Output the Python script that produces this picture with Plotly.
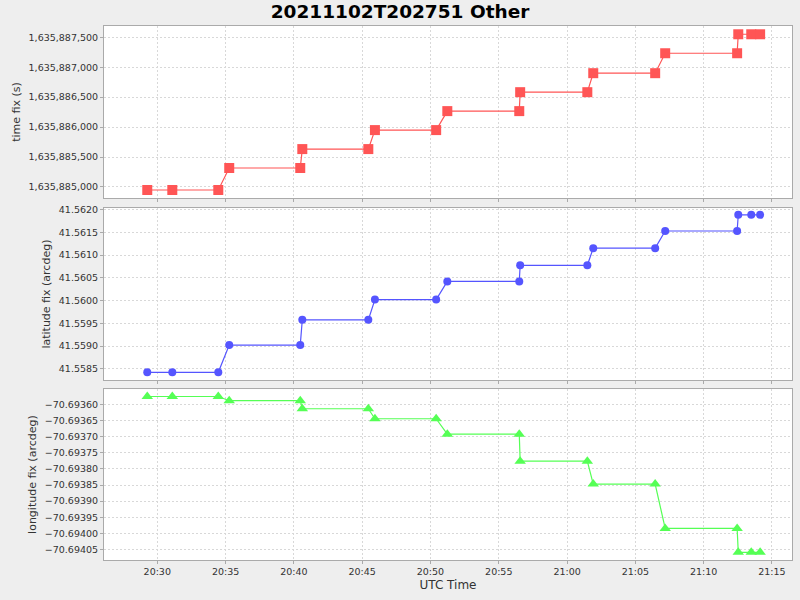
import plotly.graph_objects as go
from plotly.subplots import make_subplots

# UTC receive times (2021-11-02)
times = [
    "2021-11-02 20:29:16", "2021-11-02 20:31:06", "2021-11-02 20:34:28", "2021-11-02 20:35:16",
    "2021-11-02 20:40:28", "2021-11-02 20:40:37", "2021-11-02 20:45:27", "2021-11-02 20:45:56",
    "2021-11-02 20:50:25", "2021-11-02 20:51:14", "2021-11-02 20:56:30", "2021-11-02 20:56:34",
    "2021-11-02 21:01:29", "2021-11-02 21:01:55", "2021-11-02 21:06:27", "2021-11-02 21:07:11",
    "2021-11-02 21:12:27", "2021-11-02 21:12:32", "2021-11-02 21:13:29", "2021-11-02 21:14:08",
]

time_fix = [
    1635884950, 1635884950, 1635884950, 1635885317, 1635885317, 1635885633, 1635885633, 1635885950,
    1635885950, 1635886267, 1635886267, 1635886583, 1635886583, 1635886900, 1635886900, 1635887233,
    1635887233, 1635887550, 1635887550, 1635887550,
]

latitude_fix = [
    41.558426, 41.558426, 41.558426, 41.559024, 41.559024, 41.559578, 41.559578, 41.560021,
    41.560021, 41.560420, 41.560420, 41.560774, 41.560774, 41.561151, 41.561151, 41.561527,
    41.561527, 41.561882, 41.561882, 41.561882,
]

longitude_fix = [
    -70.693575, -70.693575, -70.693575, -70.693588, -70.693588, -70.693613, -70.693613, -70.693644,
    -70.693644, -70.693692, -70.693692, -70.693776, -70.693776, -70.693847, -70.693847, -70.693985,
    -70.693985, -70.694059, -70.694059, -70.694059,
]

x_range = ["2021-11-02 20:26:06", "2021-11-02 21:16:28"]

FONT = "DejaVu Sans"
GRID = "#d8d8d8"
LINE = "#aaaaaa"
TXT = "#333333"

fig = make_subplots(rows=3, cols=1, shared_xaxes=True)

fig.add_trace(go.Scatter(x=times, y=time_fix, mode="lines+markers",
                         line=dict(color="#FF5555", width=1.2),
                         marker=dict(symbol="square", size=10, color="#FF5555"),
                         showlegend=False), row=1, col=1)
fig.add_trace(go.Scatter(x=times, y=latitude_fix, mode="lines+markers",
                         line=dict(color="#5555FF", width=1.2),
                         marker=dict(symbol="circle", size=8, color="#5555FF"),
                         showlegend=False), row=2, col=1)
fig.add_trace(go.Scatter(x=times, y=longitude_fix, mode="lines+markers",
                         line=dict(color="#55FF55", width=1.2),
                         marker=dict(symbol="triangle-up", size=10, color="#55FF55"),
                         showlegend=False), row=3, col=1)

axis_common = dict(showline=True, linecolor=LINE, linewidth=1, mirror=True,
                   showgrid=True, gridcolor=GRID, griddash="2px,2px", gridwidth=1,
                   zeroline=False, ticks="outside", ticklen=3, tickcolor=LINE,
                   automargin=False,
                   tickfont=dict(family=FONT, size=9.5, color=TXT))

for r in (1, 2, 3):
    fig.update_xaxes(range=x_range, tickformat="%H:%M", dtick=300000,
                     tick0="2021-11-02 20:30:00", row=r, col=1, **axis_common)

fig.update_xaxes(title=dict(text="UTC Time", font=dict(family=FONT, size=12, color=TXT),
                            standoff=4), row=3, col=1)

ytitle_font = dict(family=FONT, size=11, color=TXT)
fig.update_yaxes(range=[1635884817, 1635887688], dtick=500, tickformat=",d",
                 title=dict(text="time fix (s)", font=ytitle_font, standoff=5),
                 domain=[0.678, 1.0], row=1, col=1, **axis_common)
fig.update_yaxes(range=[41.558256, 41.56203], dtick=0.0005, tickformat=".4f",
                 title=dict(text="latitude fix (arcdeg)", font=ytitle_font, standoff=5),
                 domain=[0.337, 0.659], row=2, col=1, **axis_common)
fig.update_yaxes(range=[-70.694083, -70.693552], dtick=0.00005, tickformat=".5f",
                 title=dict(text="longitude fix (arcdeg)", font=ytitle_font, standoff=5),
                 domain=[0.0, 0.320], row=3, col=1, **axis_common)

fig.update_layout(
    width=800, height=600,
    margin=dict(l=104, r=8, t=26, b=40),
    paper_bgcolor="#EEEEEE", plot_bgcolor="#FFFFFF",
    title=dict(text="<b>20211102T202751 Other</b>", x=0.5, xanchor="center",
               y=0.98, yanchor="middle", automargin=False,
               font=dict(family=FONT, size=18.5, color="#000000")),
    font=dict(family=FONT),
)

fig.write_html("out.html", config={"displayModeBar": False},
               post_script="document.body.style.margin='0';document.body.style.background='#EEEEEE';")
